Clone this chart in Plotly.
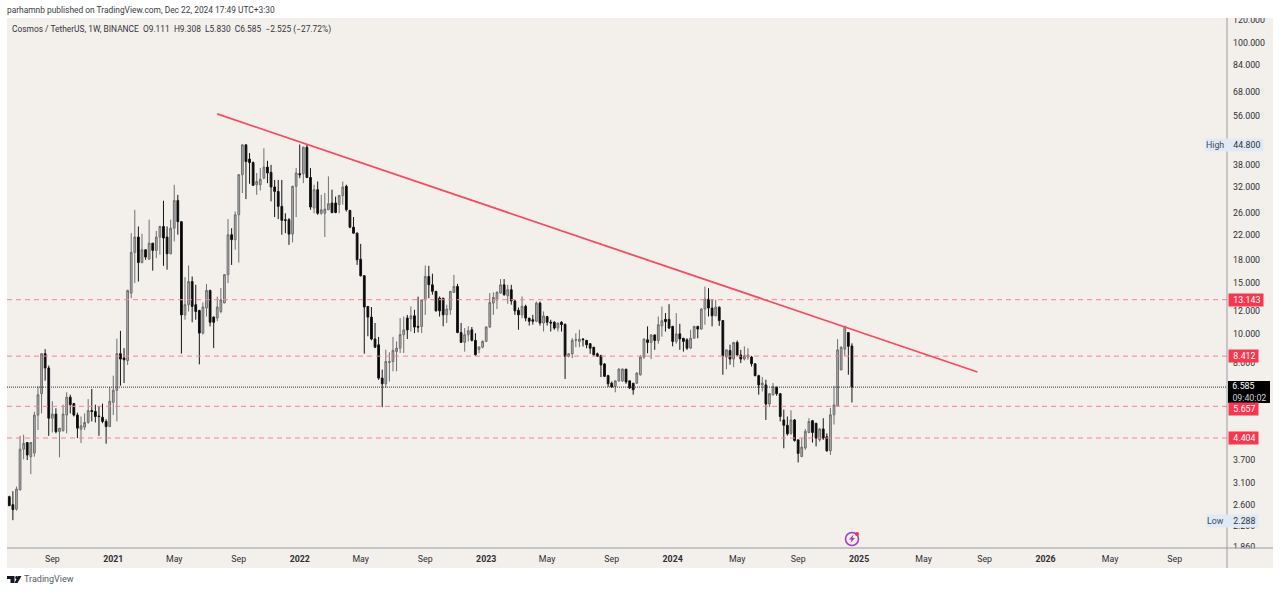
import math
import pandas as pd
import plotly.graph_objects as go

W, H = 1280, 592
L, R, T, B = 7, 1227, 18, 548

first_week = "2020-06-15"
opens = [2.77,2.60,2.51,2.92,4.03,4.25,3.80,3.91,5.28,6.25,
8.58,7.66,5.15,5.32,4.63,4.67,5.28,6.08,5.78,5.28,
4.72,4.80,4.98,5.47,5.43,5.24,5.19,5.02,4.82,5.84,
6.42,8.58,8.29,8.12,13.84,19.10,21.56,17.62,19.50,18.10,
20.55,19.40,21.56,23.44,21.56,18.90,23.12,28.80,24.35,11.65,
12.63,15.17,12.63,12.07,10.09,12.30,14.14,11.45,11.37,11.97,
12.80,16.02,21.96,21.12,25.70,35.29,44.69,39.94,38.85,32.61,
32.61,34.34,37.48,35.96,32.02,30.93,27.48,24.73,24.73,22.07,
32.19,35.58,35.58,43.85,34.53,27.12,31.35,26.02,26.02,26.75,
28.22,28.22,27.85,29.93,32.19,26.60,23.31,22.24,18.10,15.88,
12.46,11.45,9.63,9.20,7.07,6.76,8.00,8.06,8.73,8.96,
9.97,11.37,11.28,11.57,10.64,10.64,13.13,15.79,14.78,14.04,
13.30,13.30,11.66,12.14,13.93,14.59,10.14,9.38,9.96,10.36,
9.53,8.87,9.03,9.45,10.59,12.79,13.11,13.85,14.78,13.56,
14.22,13.01,12.08,11.66,12.47,11.36,11.22,11.08,12.79,10.93,
11.50,11.00,11.00,10.50,11.00,10.82,8.39,8.57,9.53,9.45,
9.63,9.53,9.28,9.03,8.57,8.44,7.91,7.21,6.79,6.62,
6.92,6.92,7.59,6.92,6.79,6.79,7.26,8.35,9.57,9.37,
9.95,9.52,10.69,11.25,11.25,10.64,9.45,10.03,9.69,9.57,
8.96,9.69,10.64,10.42,12.20,13.20,12.30,11.57,12.39,11.14,
8.35,8.79,8.22,9.37,8.49,8.22,8.35,8.35,7.92,7.21,
6.70,6.70,5.76,6.20,6.58,6.25,5.08,4.87,4.57,5.08,
4.34,3.80,4.07,4.60,5.05,4.95,4.34,4.73,4.45,3.98,
5.29,5.68,7.54,8.89,10.14,9.111]
highs = [2.79,2.89,3.00,4.48,4.52,4.25,4.25,5.42,6.63,8.62,
8.89,7.81,5.89,5.57,4.76,5.73,6.32,6.20,5.81,5.38,
5.22,5.35,5.99,6.49,5.73,5.66,5.78,5.11,6.59,7.21,
9.66,10.27,8.96,14.22,22.24,26.75,23.44,22.13,19.60,24.73,
20.55,22.63,23.57,28.73,23.44,24.73,32.61,30.10,24.41,15.71,
17.22,15.79,14.79,12.13,12.86,14.87,14.22,11.51,13.46,14.41,
16.10,24.86,23.12,26.39,35.48,44.80,44.80,41.89,39.17,35.77,
37.20,43.50,39.39,38.15,33.86,33.86,33.86,26.02,25.05,32.36,
37.20,44.80,44.07,44.69,37.20,32.61,33.44,30.10,30.52,34.82,
31.35,29.68,30.10,33.44,32.61,26.75,25.25,22.35,20.43,15.97,
12.46,12.40,10.93,9.79,7.56,8.85,8.67,9.79,9.45,11.37,
11.51,11.65,12.46,12.13,13.46,13.19,17.22,17.17,16.14,14.04,
13.48,13.30,12.63,14.04,15.99,14.89,10.93,10.50,10.65,10.59,
10.08,9.05,9.53,10.65,13.85,13.93,14.04,15.47,15.47,14.78,
14.78,13.11,12.35,13.48,12.63,11.36,11.66,12.95,12.95,11.98,
11.56,11.22,11.08,10.93,11.08,10.88,8.61,9.70,10.08,10.36,
9.70,9.53,9.33,9.03,8.65,8.50,7.96,7.26,6.88,6.94,
7.64,7.64,7.59,6.92,6.79,7.40,8.49,9.69,10.64,10.00,
9.95,11.51,12.45,11.82,12.68,10.69,11.82,10.86,9.69,9.69,
10.36,10.69,10.69,12.30,14.57,14.39,13.20,13.13,12.45,11.19,
8.84,9.21,9.42,9.52,8.84,9.09,8.96,8.43,7.92,7.26,
7.13,6.98,6.28,6.80,6.61,6.28,5.51,5.22,5.48,5.11,
4.34,4.40,4.73,5.15,5.08,4.95,4.77,5.15,4.57,5.58,
6.65,9.62,9.09,10.69,10.14,9.308]
lows = [2.57,2.30,2.48,2.92,3.72,3.70,3.31,3.80,4.69,5.35,
6.93,4.48,4.60,4.57,3.78,4.63,4.57,5.35,5.22,4.40,
4.23,4.69,4.93,5.02,4.98,4.48,4.95,4.21,4.82,5.28,
5.02,6.66,6.80,7.85,13.29,14.98,15.17,17.52,18.01,18.10,
16.53,18.25,18.76,17.17,16.66,18.80,20.83,21.96,8.58,11.22,
11.97,10.99,11.22,7.88,9.97,11.51,10.64,8.96,11.08,11.80,
12.80,14.98,17.30,19.50,17.62,30.52,29.10,32.86,32.36,30.10,
31.18,34.05,33.02,28.58,25.25,24.86,21.96,22.24,20.27,20.67,
25.25,34.34,33.02,34.34,26.75,26.02,25.70,25.70,21.56,26.75,
26.02,26.02,26.02,27.85,26.39,23.12,22.13,17.30,15.79,8.58,
9.84,9.53,8.96,6.97,5.62,6.54,6.88,7.46,7.46,8.62,
8.62,9.63,10.22,10.09,10.15,10.09,11.65,13.29,13.67,11.97,
11.50,10.65,10.93,11.66,13.85,10.08,9.33,8.72,9.45,9.45,
8.44,8.61,8.95,9.45,10.50,11.66,12.21,13.78,13.56,12.72,
12.63,11.66,10.36,11.36,11.08,10.71,10.79,11.00,10.71,10.22,
10.71,10.22,10.36,10.22,10.22,7.02,8.33,8.28,9.03,9.03,
9.08,8.95,8.57,8.44,8.39,7.13,7.13,6.59,6.54,6.32,
6.86,6.86,6.76,6.49,6.20,6.76,7.21,8.22,8.60,8.22,
8.84,9.28,9.81,10.22,10.42,9.09,9.28,8.84,8.72,8.84,
8.89,9.69,9.69,10.36,10.78,11.51,10.64,11.57,10.69,7.26,
7.58,7.86,7.71,8.43,7.96,8.13,8.17,7.75,7.17,6.20,
6.36,5.08,5.62,6.15,6.15,5.02,4.06,4.49,4.51,4.28,
3.63,3.80,4.01,4.57,4.25,4.12,4.28,4.34,3.95,3.85,
4.90,5.68,7.54,8.43,7.26,5.830]
closes = [2.58,2.50,2.94,4.03,4.22,3.85,4.25,5.28,6.20,8.58,
7.66,5.15,5.32,4.63,4.76,5.32,6.08,5.73,5.28,4.76,
4.85,4.98,5.47,5.43,5.22,5.22,5.02,4.82,5.89,6.42,
8.58,8.22,8.17,14.14,19.10,21.56,17.62,19.50,18.41,20.55,
19.40,21.56,23.44,21.39,18.90,23.12,28.80,24.35,11.65,12.63,
15.17,12.46,11.97,10.09,12.40,14.14,10.99,10.99,12.40,13.13,
16.02,21.96,21.12,25.70,35.29,44.69,39.17,38.85,32.44,33.44,
34.05,37.48,35.77,32.02,30.93,27.48,24.60,24.60,22.07,32.19,
35.77,35.29,43.85,34.53,27.33,31.35,26.02,26.75,26.90,28.07,
26.17,26.17,29.93,32.02,26.75,23.31,22.24,18.01,15.88,12.40,
11.45,9.63,9.03,7.07,6.76,8.06,8.06,8.80,8.96,9.97,
10.35,10.35,11.57,10.58,10.58,13.13,15.79,14.79,14.04,12.03,
12.03,11.66,12.21,14.04,14.59,10.14,9.38,9.96,10.28,9.53,
8.50,9.05,9.45,10.59,12.85,13.37,13.93,14.78,13.67,14.22,
13.01,12.03,11.66,12.47,11.36,11.08,11.08,12.79,10.93,11.56,
11.00,10.93,10.50,10.93,10.79,8.39,8.57,9.53,9.58,9.63,
9.58,9.20,8.95,8.50,8.39,7.85,7.17,6.76,6.59,6.92,
7.59,7.59,6.86,6.54,6.45,7.36,8.35,9.62,9.37,9.95,
9.52,10.78,11.13,11.05,10.50,9.45,10.03,9.64,9.45,8.96,
9.69,10.64,10.42,12.20,13.20,12.30,11.57,12.39,11.14,8.43,
8.84,8.22,9.37,8.49,8.22,8.43,8.49,7.92,7.21,6.70,
6.80,5.76,6.25,6.61,6.25,5.22,4.87,4.55,5.08,4.32,
3.90,4.10,4.64,5.02,4.60,4.40,4.73,4.40,3.98,5.29,
5.72,8.84,9.03,10.64,9.09,6.585]

price_ticks = [120, 100, 84, 68, 56, 44, 38, 32, 26, 22, 18, 15, 12, 10, 8, 3.7, 3.1, 2.6, 2.2, 1.86]
price_labels = ["120.000","100.000","84.000","68.000","56.000","44.000","38.000","32.000","26.000",
                "22.000","18.000","15.000","12.000","10.000","8.000","3.700","3.100","2.600","2.200","1.860"]
time_ticks = ["2020-09-07","2021-01-04","2021-05-03","2021-09-06","2022-01-03","2022-05-02","2022-09-05",
              "2023-01-02","2023-05-01","2023-09-04","2024-01-01","2024-05-06","2024-09-02","2024-12-30",
              "2025-05-05","2025-09-01","2025-12-29","2026-05-04","2026-09-07"]
time_labels = ["Sep","<b>2021</b>","May","Sep","<b>2022</b>","May","Sep","<b>2023</b>","May","Sep",
               "<b>2024</b>","May","Sep","<b>2025</b>","May","Sep","<b>2026</b>","May","Sep"]
level_lines = [13.143, 8.412, 5.657, 4.404]
level_labels = ["13.143", "8.412", "5.657", "4.404"]
last_close = 6.585
trend_dates = ["2021-07-26", "2025-08-18"]
trend_prices = [57.05, 7.42]
period_high, period_low = 44.8, 2.288

FONT = "Roboto"
FS = 8.8
INK = "#2e2e33"
PANEL = "#f3f0ec"
PAD = "&nbsp;&nbsp;"

def X(px): return (px - L) / (R - L)
def Y(py): return 1 - (py - T) / (B - T)
def lg(v): return math.log10(v)

dates = pd.date_range(first_week, periods=len(opens), freq="7D")
week = pd.Timedelta(days=7)
x_range = [dates[0] - 0.64 * week, dates[0] + 339.6 * week]
y_range = [lg(1.846), lg(121.8)]

fig = go.Figure()
fig.add_trace(go.Candlestick(
    x=dates, open=opens, high=highs, low=lows, close=closes,
    increasing=dict(line=dict(color="#6e6e6e", width=1), fillcolor="#b0b0b0"),
    decreasing=dict(line=dict(color="#141414", width=1), fillcolor="#000000"),
    whiskerwidth=0, showlegend=False, hoverinfo="skip"))
for lv in level_lines:
    fig.add_trace(go.Scatter(x=x_range, y=[lv, lv], mode="lines", showlegend=False, hoverinfo="skip",
                             line=dict(color="#fa8090", width=1, dash="5px,4px")))
fig.add_trace(go.Scatter(x=x_range, y=[last_close, last_close], mode="lines", showlegend=False, hoverinfo="skip",
                         line=dict(color="#333333", width=1, dash="1px,1px")))
fig.add_trace(go.Scatter(x=trend_dates, y=trend_prices, mode="lines", showlegend=False, hoverinfo="skip",
                         line=dict(color="#f84a62", width=1.8)))

def rect(x0, y0, x1, y1, color, layer="below"):
    return dict(type="rect", xref="paper", yref="paper", x0=X(x0), x1=X(x1), y0=Y(y0), y1=Y(y1),
                fillcolor=color, line_width=0, layer=layer)
def seg(x0, y0, x1, y1, color="#9a9ca3"):
    return dict(type="line", xref="paper", yref="paper", x0=X(x0), x1=X(x1), y0=Y(y0), y1=Y(y1),
                line=dict(color=color, width=1), layer="above")
def path(points, color):
    d = "M" + " L".join(f"{X(a):.5f},{Y(b):.5f}" for a, b in points) + " Z"
    return dict(type="path", xref="paper", yref="paper", path=d, fillcolor=color, line_width=0, layer="above")
def circle(cx, cy, r, fill, line=None):
    return dict(type="circle", xref="paper", yref="paper", x0=X(cx - r), x1=X(cx + r), y0=Y(cy + r), y1=Y(cy - r),
                fillcolor=fill, line=dict(color=line or fill, width=1.5 if line else 0), layer="above")

shapes = [
    rect(7, 18, 1273, 568, PANEL),
    rect(1227.5, 0, 1280, 18, "#ffffff", "above"),
    rect(1227.5, 548.5, 1273, 568, PANEL, "above"),
    seg(1227, 18, 1227, 568),
    seg(7, 548, 1273, 548),
    circle(852, 539, 6.5, "rgba(0,0,0,0)", "#a23bc4"),
    circle(857, 534, 2, "#f23645"),
    path([(853.5, 534.5), (849, 539.5), (851.5, 539.5), (850.5, 543), (855, 538), (852.5, 538)], "#a23bc4"),
    path([(7, 576), (14.5, 576), (14.5, 583), (10.5, 583), (10.5, 579), (7, 579)], "#131722"),
    circle(16.6, 577.5, 1.5, "#131722"),
    path([(18, 576), (21.5, 576), (17.5, 583), (14.5, 583)], "#131722"),
]

def note(text, x, y, yref="paper", color=INK, size=FS, bg=None, xanchor="left", **kw):
    return dict(text=text, x=X(x), y=(Y(y) if yref == "paper" else y), xref="paper", yref=yref,
                xanchor=xanchor, yanchor="middle", showarrow=False, bgcolor=bg, align="left",
                font=dict(family=FONT, size=size, color=color), **kw)

ann = [
    note("parhamnb published on TradingView.com, Dec 22, 2024 17:49 UTC+3:30", 5, 10, color="#3a3a40", size=8.4),
    note("Cosmos / TetherUS, 1W, BINANCE &nbsp;O9.111 &nbsp;H9.308 &nbsp;L5.830 &nbsp;C6.585 &nbsp;−2.525 (−27.72%)", 10, 29, color="#33333a", size=8.4),
    note("TradingView", 22, 579, color="#555a66", size=9.0),
]
ann.append(note(f"{PAD}6.585<br>{PAD}<span style='color:#cfcfcf'>09:40:02</span>", 1227.5, lg(last_close), yref="y",
                color="#ffffff", bg="#000000", borderpad=0, borderwidth=0, width=42, height=22, yshift=-5))
for lv, lab in zip(level_lines, level_labels):
    wid = 34 if len(lab) > 5 else 29
    shift = -3 if lab == "5.657" else 0
    ann.append(note(PAD + lab, 1227.5, lg(lv), yref="y", color="#ffffff", bg="#f7364f", borderpad=0,
                    width=wid, height=12, yshift=shift))
ann += [
    note("High", 1205, lg(period_high), yref="y", bg="#dfeaf6", color="#3a4a5a", borderpad=0, width=22, height=12),
    note(PAD + "44.800", 1227.5, lg(period_high), yref="y", bg="#dfeaf6", color="#2a3440", borderpad=0, width=34, height=12),
    note("Low", 1206, lg(period_low), yref="y", bg="#dfeaf6", color="#3a4a5a", borderpad=0, width=21, height=12),
    note(PAD + "2.288", 1227.5, lg(period_low), yref="y", bg="#dfeaf6", color="#2a3440", borderpad=0, width=29, height=12),
]

fig.update_layout(
    width=W, height=H, autosize=False,
    margin=dict(l=L, r=W - R, t=T, b=H - B, pad=0),
    paper_bgcolor="#ffffff", plot_bgcolor="rgba(0,0,0,0)",
    showlegend=False, shapes=shapes, annotations=ann,
    font=dict(family=FONT, size=FS, color=INK),
    xaxis=dict(type="date", range=x_range, rangeslider=dict(visible=False), showgrid=False, zeroline=False,
               tickmode="array", tickvals=time_ticks, ticktext=time_labels, ticks="", showline=False,
               tickangle=0, ticklabelstandoff=4, tickfont=dict(family=FONT, size=FS, color=INK)),
    yaxis=dict(type="log", range=y_range, side="right", showgrid=False, zeroline=False, showline=False,
               tickmode="array", tickvals=price_ticks, ticktext=price_labels, ticks="", ticklabelstandoff=5,
               tickfont=dict(family=FONT, size=FS, color=INK)),
)
fig.write_html("out.html", config=dict(displayModeBar=False),
               post_script="document.body.style.margin='0';")
